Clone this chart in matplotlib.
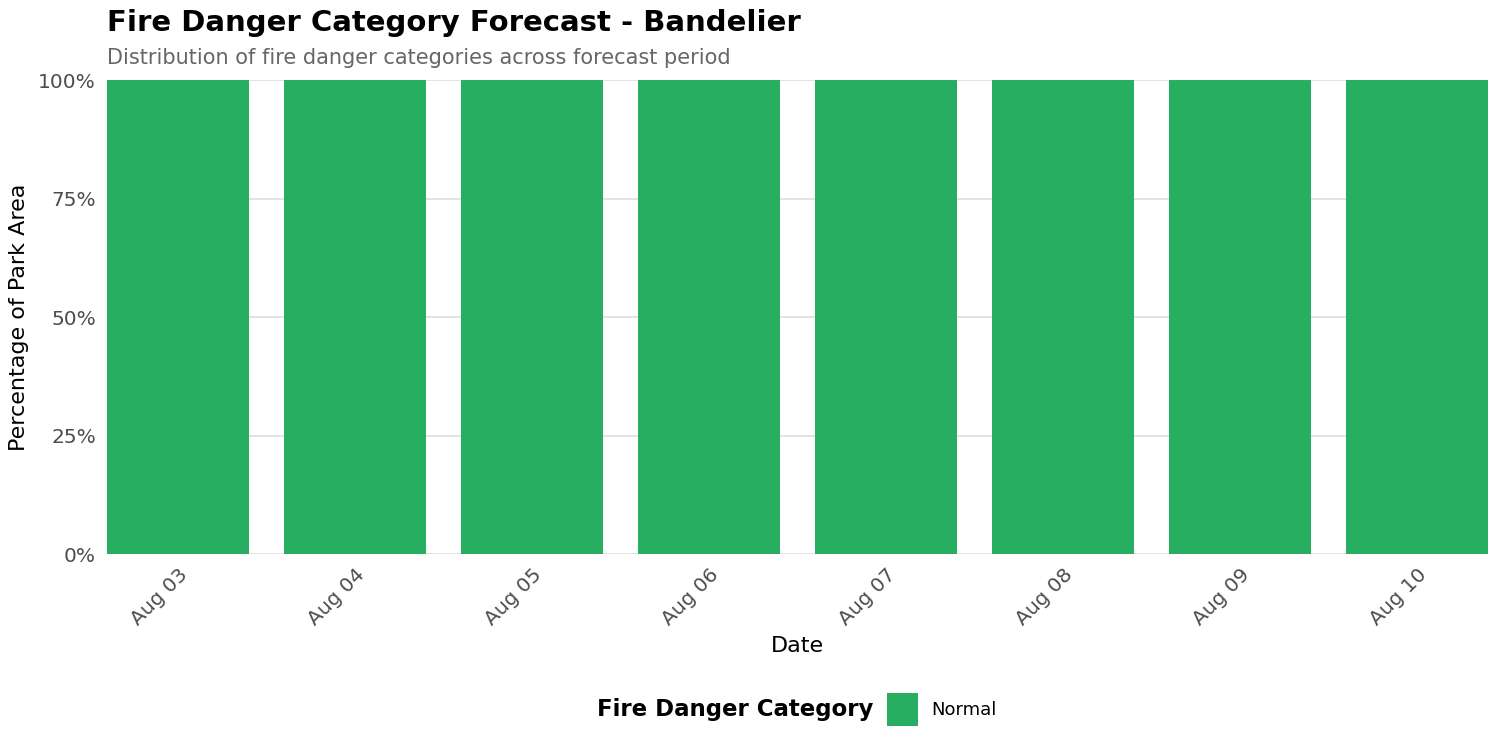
import matplotlib
matplotlib.use('Agg')
import matplotlib.pyplot as plt
from matplotlib.ticker import FuncFormatter
import numpy as np

# data
dates = ['Aug 03', 'Aug 04', 'Aug 05', 'Aug 06', 'Aug 07', 'Aug 08', 'Aug 09', 'Aug 10']
category = 'Normal'
normal_pct = [1.0, 1.0, 1.0, 1.0, 1.0, 1.0, 1.0, 1.0]
green = '#27AE60'

plt.rcParams['font.family'] = ['DejaVu Sans']

fig = plt.figure(figsize=(15, 7.5), dpi=100)
ax = fig.add_axes([0.0713, 0.2613, 0.9207, 0.632])

x = np.arange(len(dates))
bars = ax.bar(x, normal_pct, width=0.8, color=green, label=category, zorder=2)

ax.set_xlim(-0.4, len(dates) - 0.6)
ax.set_ylim(0, 1)
ax.set_yticks([0, 0.25, 0.5, 0.75, 1.0])
ax.yaxis.set_major_formatter(FuncFormatter(lambda v, p: '{:.0f}%'.format(v * 100)))
ax.set_xticks(x)
ax.set_xticklabels(dates, rotation=45, ha='right', rotation_mode='anchor')
ax.tick_params(axis='both', length=0, labelsize=14.5, labelcolor='#4d4d4d')
ax.tick_params(axis='x', pad=8)
ax.tick_params(axis='y', pad=8)
ax.grid(axis='y', color='#dedede', linewidth=1.2, zorder=0)
for s in ax.spines.values():
    s.set_visible(False)

ax.set_xlabel('Date', fontsize=16, va='center')
ax.set_ylabel('Percentage of Park Area', fontsize=16, va='center')
ax.xaxis.set_label_coords(0.5, -0.193)
ax.yaxis.set_label_coords(-0.064, 0.5)

fig.text(0.0713, 0.969, 'Fire Danger Category Forecast - Bandelier', fontsize=21,
         fontweight='bold', va='center', ha='left')
fig.text(0.0713, 0.922, 'Distribution of fire danger categories across forecast period',
         fontsize=15, color='#666666', va='center', ha='left')

# legend
fig.text(0.582, 0.054, 'Fire Danger Category', fontsize=16.5, fontweight='bold',
         va='center', ha='right')
fig.legend(handles=[bars], labels=[category], loc='center left',
           bbox_to_anchor=(0.591, 0.054), frameon=False, fontsize=13,
           handlelength=1.75, handleheight=2.4, handletextpad=0.75,
           borderpad=0, borderaxespad=0)

fig.savefig('out.png', dpi=100)
